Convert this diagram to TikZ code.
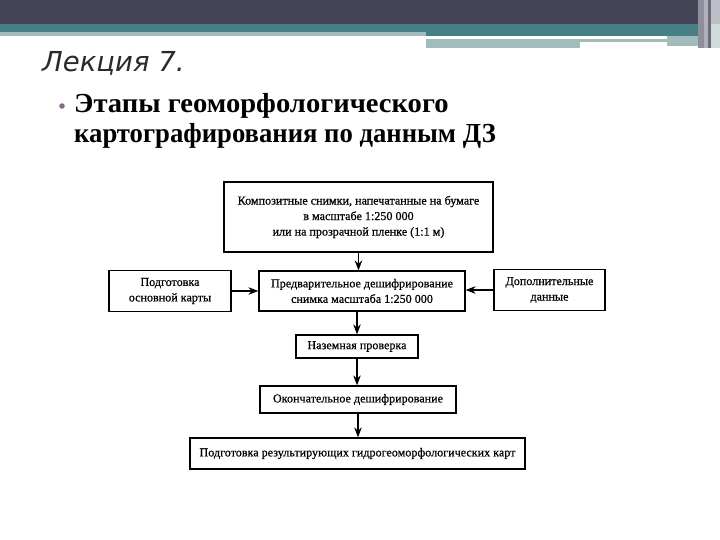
\documentclass[tikz,border=0pt]{standalone}
\usepackage{fontspec}
\usepackage{graphicx}
\setmainfont{Liberation Serif}
\newfontfamily\titlefont{DejaVu Sans}
\newfontfamily\diagfont[BoldFont=Liberation Serif, BoldFeatures={FakeBold=0.6}]{Liberation Serif}
\usetikzlibrary{arrows.meta}
\definecolor{hdark}{HTML}{434456}
\definecolor{hteal}{HTML}{467F84}
\definecolor{hlight}{HTML}{A2BCBE}
\definecolor{bulletc}{HTML}{8A6A8A}
\definecolor{titlec}{HTML}{2A2A2A}
\definecolor{gA}{HTML}{8E8E9C}
\definecolor{gB}{HTML}{B0B0BA}
\definecolor{gC}{HTML}{6C6C7C}
\definecolor{gD}{HTML}{BEBEC6}
\definecolor{gE}{HTML}{D0DCDC}
\tikzset{
  box/.style={draw=black, line width=1.2pt, fill=white, inner sep=0pt, align=center,
    font=\diagfont\bfseries\fontsize{12.1}{15.5}\selectfont},
  arr/.style={line width=1.3pt, -{Stealth[length=10pt,width=7.5pt]}},
  bl/.style={anchor=base west, inner sep=0pt, font=\bfseries\fontsize{27.5}{30}\selectfont}
}
\begin{document}
\begin{tikzpicture}[x=1pt,y=-1pt]
\useasboundingbox (0,0) rectangle (720,540);
% header
\fill[hdark] (0,0) rectangle (700,24);
\fill[hteal] (0,24) rectangle (700,32);
\fill[hteal] (426,32) rectangle (700,36);
\fill[hlight] (0,32) rectangle (426,36);
\fill[hlight] (426,39) rectangle (580,48);
\fill[hlight] (580,39) rectangle (667,42);
\fill[hlight] (667,36) rectangle (698,46);
\fill[gA] (698,0) rectangle (704,48);
\fill[gB] (704,0) rectangle (708,48);
\fill[gC] (708,0) rectangle (711,48);
\fill[gD] (711,0) rectangle (720,24);
\fill[gE] (711,24) rectangle (720,48);
% title
\node[anchor=base west, inner sep=0pt, text=titlec, font=\titlefont\itshape\fontsize{27.5}{30}\selectfont] (title) at (42,72) {Лекция 7.};
% bullet
\fill[bulletc] (62,106) circle (2.8pt);
\node[bl] (b1) at (74,113) {\scalebox{1.04}[1]{Этапы геоморфологического}};
\node[bl] (b2) at (74,143) {\scalebox{0.97}[1]{картографирования по данным ДЗ}};
% diagram
\node[box, minimum width=269pt, minimum height=70pt] (top) at (358.5,217) {Композитные снимки, напечатанные на бумаге\\в масштабе 1:250 000\\или на прозрачной пленке (1:1 м)};
\node[box, minimum width=206pt, minimum height=40pt] (c) at (362,291) {Предварительное дешифрирование\\снимка масштаба 1:250 000};
\node[box, minimum width=122pt, minimum height=41pt] (l) at (170,291) {Подготовка\\основной карты};
\node[box, minimum width=111pt, minimum height=41pt] (r) at (549.5,290) {Дополнительные\\данные};
\node[box, minimum width=122pt, minimum height=23pt] (n) at (357,346.5) {Наземная проверка};
\node[box, minimum width=196pt, minimum height=27pt] (o) at (358,399.5) {Окончательное дешифрирование};
\node[box, minimum width=335pt, minimum height=31pt] (f) at (357.5,453.5) {Подготовка результирующих гидрогеоморфологических карт};
\draw[arr] (top.south) -- (top.south |- c.north);
\draw[arr] (l.east) -- (l.east -| c.west);
\draw[arr] (r.west) -- (r.west -| c.east);
\draw[arr] (c.south -| n.north) -- (n.north);
\draw[arr] (n.south) -- (n.south |- o.north);
\draw[arr] (o.south) -- (o.south |- f.north);
\end{tikzpicture}
\end{document}
